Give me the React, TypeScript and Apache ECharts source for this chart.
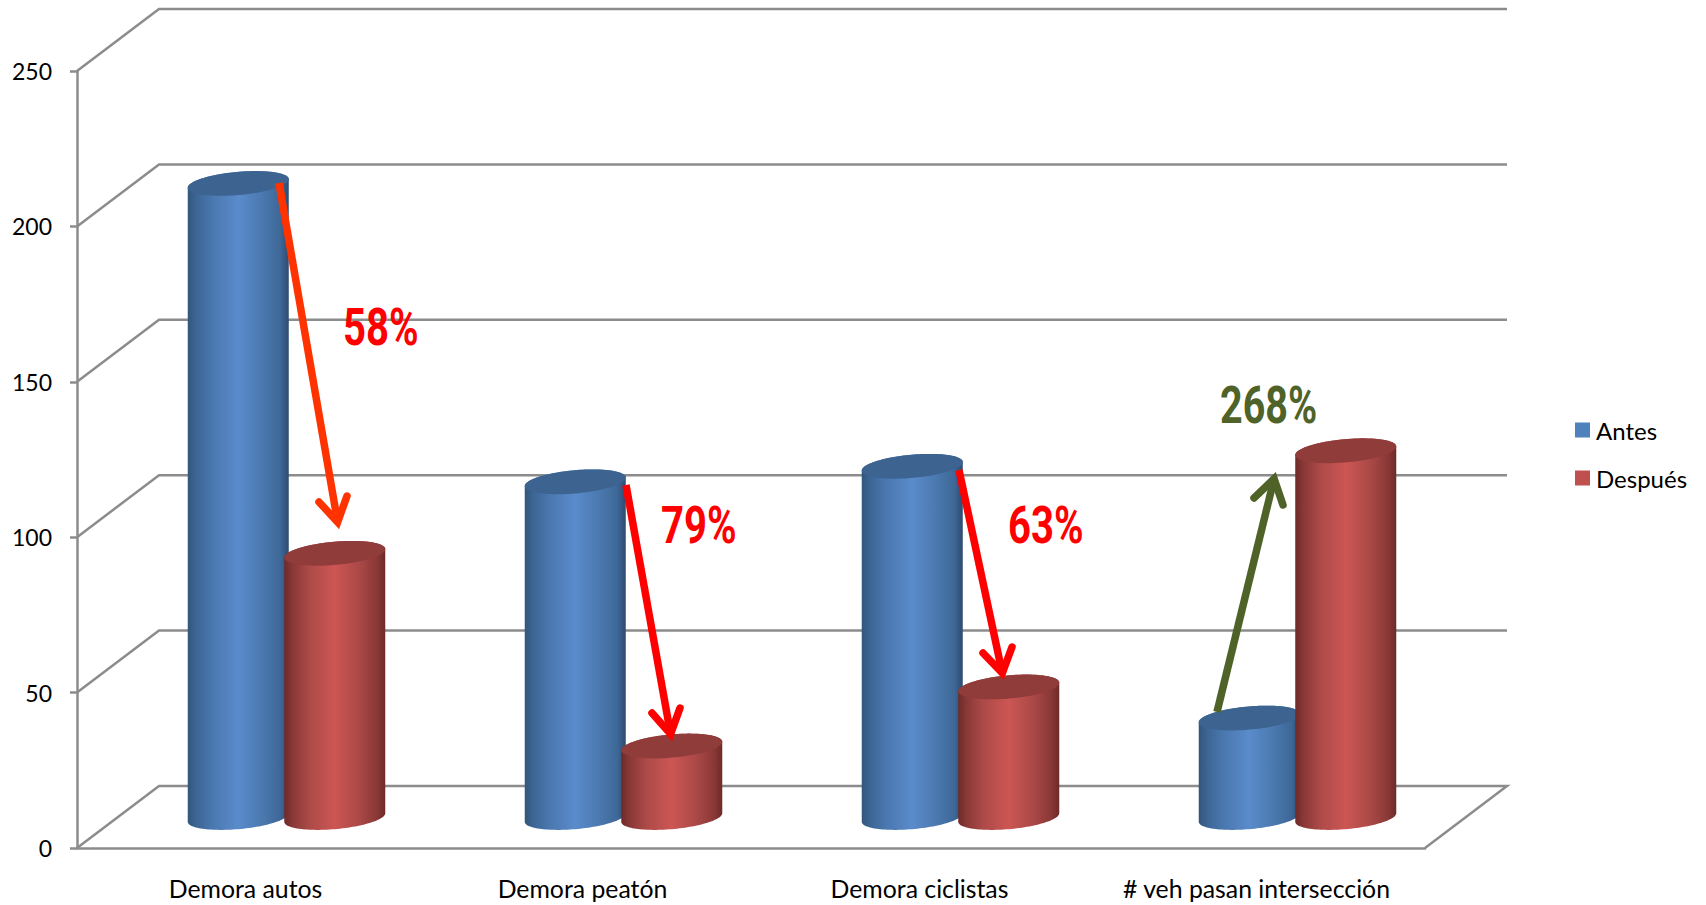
import React, { useEffect, useRef } from "react";
import * as echarts from "echarts";

const categories = ["Demora autos", "Demora peatón", "Demora ciclistas", "# veh pasan intersección"];
const antes = [204, 108, 113, 32];
const despues = [85, 23, 42, 118];
const yTicks = [0, 50, 100, 150, 200, 250];
const seriesNames = ["Antes", "Después"];

const AXIS = "#8c8c8c";
const FONT = "Lato";
const DEPTH_X = 82;
const DEPTH_Y = 62;
const BAR_LIFT = 30.5;
const BAR_STEP = 96.5;
const BAR_A = 50.7;
const BAR_B = 11.6;
const TILT = (-5.1 * Math.PI) / 180;

const blueStops = [
  { offset: 0, color: "#33557c" },
  { offset: 0.08, color: "#3c6594" },
  { offset: 0.25, color: "#4a78b0" },
  { offset: 0.5, color: "#5a8bcb" },
  { offset: 0.75, color: "#4a78ae" },
  { offset: 0.92, color: "#3d6796" },
  { offset: 1, color: "#2e4b6e" },
];
const redStops = [
  { offset: 0, color: "#6d2a29" },
  { offset: 0.08, color: "#883836" },
  { offset: 0.25, color: "#ad4a48" },
  { offset: 0.5, color: "#cc5654" },
  { offset: 0.75, color: "#a94846" },
  { offset: 0.92, color: "#893836" },
  { offset: 1, color: "#6d2a29" },
];

function ellipsePoint(cx: number, cy: number, t: number): number[] {
  return [
    cx + BAR_A * Math.cos(t) * Math.cos(TILT) - BAR_B * Math.sin(t) * Math.sin(TILT),
    cy + BAR_A * Math.cos(t) * Math.sin(TILT) + BAR_B * Math.sin(t) * Math.cos(TILT),
  ];
}

function cylinder(offset: number, stops: any[], capColor: string) {
  return (_params: any, api: any) => {
    const cat = api.value(0);
    const val = api.value(1);
    const base = api.coord([cat, 0]);
    const top = api.coord([cat, val]);
    const cx = base[0] + DEPTH_X / 2 + offset;
    const by = base[1] - BAR_LIFT;
    const ty = top[1] - BAR_LIFT;
    const t0 = Math.atan(-(BAR_B / BAR_A) * Math.tan(TILT));
    const body: number[][] = [];
    const cap: number[][] = [];
    const n = 60;
    for (let i = 0; i <= n; i++) {
      const t = t0 + (Math.PI * i) / n;
      body.push(ellipsePoint(cx, by, t));
    }
    for (let i = 0; i <= n; i++) {
      const t = t0 + Math.PI + (Math.PI * i) / n;
      body.push(ellipsePoint(cx, ty, t));
    }
    for (let i = 0; i < 2 * n; i++) {
      cap.push(ellipsePoint(cx, ty, (Math.PI * i) / n));
    }
    return {
      type: "group",
      children: [
        {
          type: "polygon",
          shape: { points: body },
          style: { fill: new echarts.graphic.LinearGradient(0, 0, 1, 0, stops) },
        },
        { type: "polygon", shape: { points: cap }, style: { fill: capColor } },
      ],
    };
  };
}

function wallLines(_params: any, api: any) {
  const v = api.value(1);
  const p = api.coord([0, v]);
  const bw = api.size([1, 0])[0];
  const x0 = p[0] - bw / 2;
  const x1 = x0 + bw * categories.length;
  const y = p[1];
  const pts = [
    [x0, y],
    [x0 + DEPTH_X, y - DEPTH_Y],
    [x1 + DEPTH_X, y - DEPTH_Y],
  ];
  if (v === 0) pts.push([x1, y]);
  return {
    type: "polyline",
    shape: { points: pts },
    style: { stroke: AXIS, lineWidth: 2.5, fill: null },
  };
}

const annotationLabels = ["58%", "79%", "63%", "268%"];

function arrow(start: number[], tip: number[], b1: number[], b2: number[], color: string): any[] {
  const dx = tip[0] - start[0];
  const dy = tip[1] - start[1];
  const len = Math.hypot(dx, dy);
  const back = 8;
  const inner = [tip[0] - (dx / len) * back, tip[1] - (dy / len) * back];
  return [
    {
      type: "line",
      z: 100,
      shape: { x1: start[0], y1: start[1], x2: inner[0], y2: inner[1] },
      style: { stroke: color, lineWidth: 7.5, lineCap: "butt" },
    },
    {
      type: "polyline",
      z: 100,
      shape: { points: [b1, inner, b2] },
      style: { stroke: color, lineWidth: 7.5, lineCap: "round", lineJoin: "miter", miterLimit: 10, fill: null },
    },
  ];
}

function label(text: string, x: number, cy: number, color: string, scaleX: number) {
  return {
    type: "text",
    z: 100,
    x,
    y: cy,
    scaleX,
    style: {
      text,
      fill: color,
      fontFamily: "Roboto",
      fontWeight: "bold",
      fontSize: 52,
      align: "left",
      verticalAlign: "middle",
    },
  };
}

export default function App() {
  const ref = useRef<HTMLDivElement>(null);
  useEffect(() => {
    const chart = echarts.init(ref.current!, null, { renderer: "svg" });
    chart.setOption({
      animation: false,
      backgroundColor: "#ffffff",
      grid: { left: 77, right: 281, top: 71, bottom: 57 },
      legend: {
        orient: "vertical",
        left: 1575,
        top: 418,
        padding: 0,
        itemWidth: 15,
        itemHeight: 15,
        itemGap: 24,
        icon: "rect",
        data: seriesNames,
        textStyle: { fontFamily: FONT, fontSize: 24, color: "#000000", padding: [0, 0, 0, 1] },
      },
      xAxis: {
        type: "category",
        data: categories,
        axisLine: { lineStyle: { color: AXIS, width: 2.5 } },
        axisTick: { length: 9, lineStyle: { color: AXIS, width: 2.5 } },
        axisLabel: { color: "#000000", fontFamily: FONT, fontSize: 24.8, margin: 28, interval: 0 },
      },
      yAxis: {
        type: "value",
        min: 0,
        max: 250,
        interval: 50,
        splitLine: { show: false },
        axisLine: { show: true, lineStyle: { color: AXIS, width: 2.5 } },
        axisTick: { show: true, length: 7, lineStyle: { color: AXIS, width: 2.5 } },
        axisLabel: { color: "#000000", fontFamily: FONT, fontSize: 23, margin: 25 },
      },
      series: [
        {
          type: "custom",
          name: "walls",
          z: 1,
          silent: true,
          renderItem: wallLines,
          data: yTicks.map((v) => [0, v]),
        },
        {
          type: "custom",
          name: seriesNames[0],
          z: 2,
          itemStyle: { color: "#4f81bd" },
          renderItem: cylinder(-BAR_STEP / 2, blueStops, "#3d6490"),
          data: antes.map((v, i) => [i, v]),
        },
        {
          type: "custom",
          name: seriesNames[1],
          z: 3,
          itemStyle: { color: "#c0504d" },
          renderItem: cylinder(BAR_STEP / 2, redStops, "#903c3a"),
          data: despues.map((v, i) => [i, v]),
        },
      ],
      graphic: {
        elements: [
          ...arrow([279, 183], [339, 530], [319, 502], [347, 496], "#ff3300"),
          ...arrow([626, 485], [672, 742], [652, 713], [680, 708], "#ff0000"),
          ...arrow([959, 470], [1004, 681], [983, 653], [1012, 647], "#ff0000"),
          ...arrow([1217, 712], [1276, 471], [1254, 498], [1283, 505], "#4f6228"),
          label(annotationLabels[0], 343, 327, "#ff0000", 0.77),
          label(annotationLabels[1], 661, 525.5, "#ff0000", 0.77),
          label(annotationLabels[2], 1008, 525.5, "#ff0000", 0.77),
          label(annotationLabels[3], 1220, 404.5, "#4f6228", 0.76),
        ],
      },
    });
    return () => chart.dispose();
  }, []);
  return <div ref={ref} style={{ position: "fixed", left: 0, top: 0, width: 1706, height: 905 }} />;
}
